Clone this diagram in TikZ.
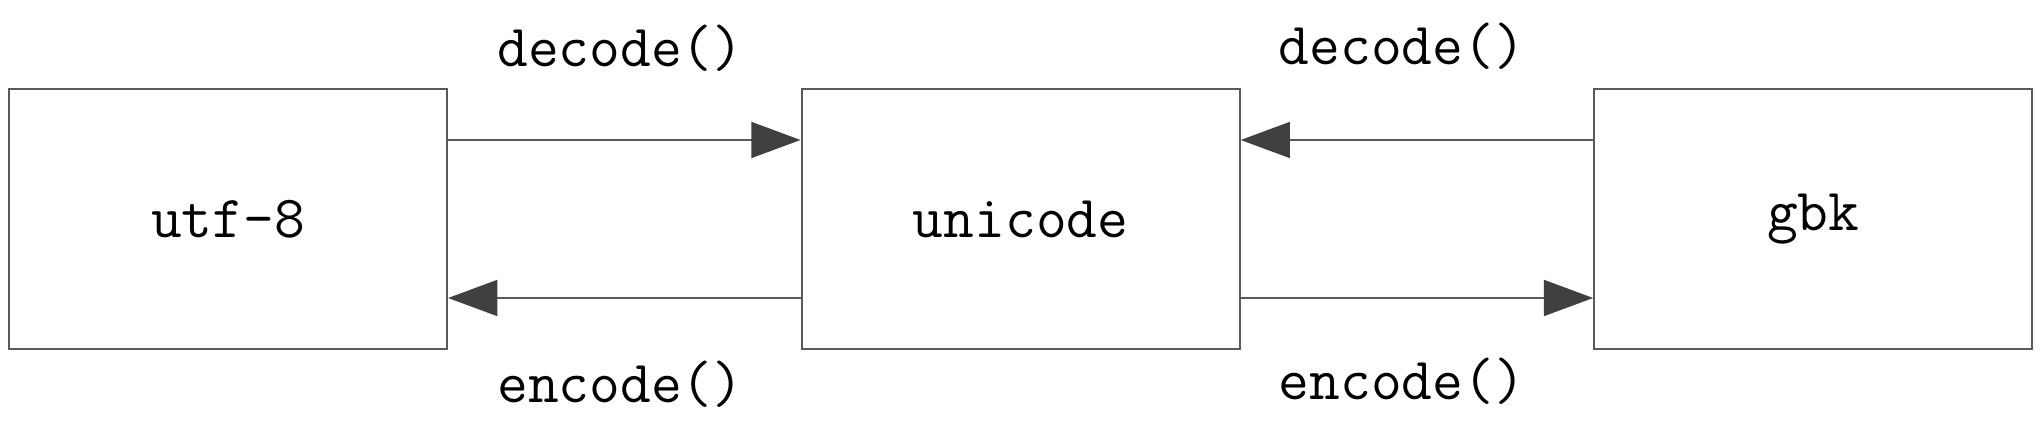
\documentclass[tikz,border=0pt]{standalone}
\usepackage{tikz}
\usetikzlibrary{arrows.meta,positioning}
\definecolor{linegray}{HTML}{5A5A5A}
\definecolor{tipgray}{HTML}{404040}
\tikzset{
  every picture/.style = {
    >={Triangle[length=14pt,width=10.2pt,color=tipgray]},
    node distance = 1em and 3.525cm,
  }
  ,
  codec/.style = {
    rectangle,
    draw = linegray,
    line width = 0.6pt,
    font = \fontsize{17}{20}\selectfont\ttfamily,
    minimum width = 4.38cm,
    minimum height = 2.6cm,
    inner sep = 0pt
  }
  , % connectors between the boxes
  conv/.style = {
    ->,
    draw = linegray,
    line width = 0.6pt
  }
  , % labels of edges
  label-edge/.style = {
    font = \fontsize{17}{20}\selectfont\ttfamily
  }
}

\begin{document}
\begin{tikzpicture}
		\useasboundingbox (0,0) rectangle (20.41,-4.34);
		\node[codec] at (2.28,-2.19) (utf) {utf-8};
		\node[codec, right = of utf] (uni) {unicode};
		\node[codec, right = of uni] (gbk) {gbk};
		\draw[conv] ([yshift=0.79cm]utf.east) -- node[label-edge, yshift=0.92cm, xshift=-0.04cm] {decode()} ([yshift=0.79cm]uni.west);
		\draw[conv] ([yshift=-0.79cm]uni.west) -- node[label-edge, yshift=-0.86cm, xshift=-0.04cm] {encode()} ([yshift=-0.79cm]utf.east);
		\draw[conv] ([yshift=0.79cm]gbk.west) -- node[label-edge, yshift=0.94cm, xshift=-0.15cm] {decode()} ([yshift=0.79cm]uni.east);
		\draw[conv] ([yshift=-0.79cm]uni.east) -- node[label-edge, yshift=-0.83cm, xshift=-0.15cm] {encode()} ([yshift=-0.79cm]gbk.west);
\end{tikzpicture}
\end{document}
